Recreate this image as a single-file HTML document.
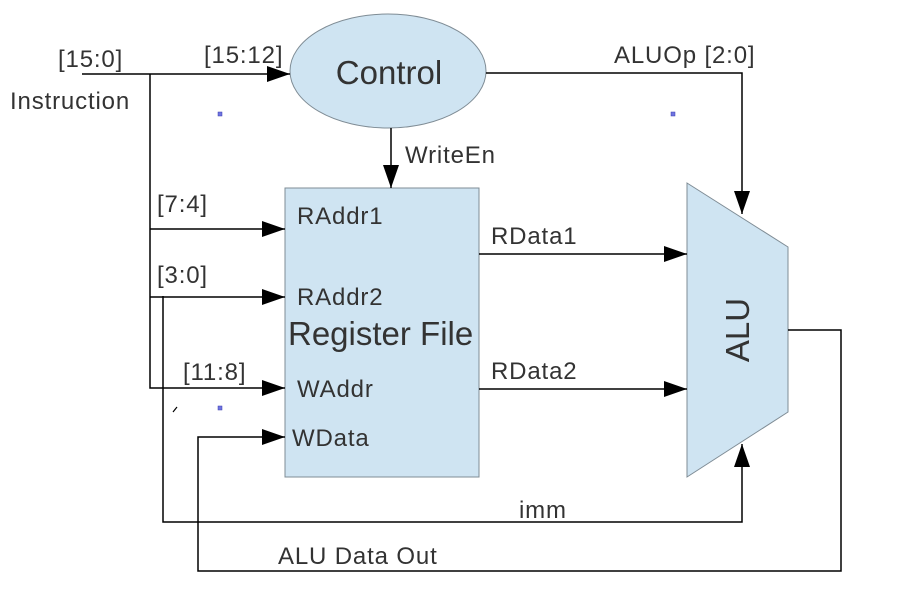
<!DOCTYPE html>
<html><head><style>
body{margin:0;background:#fff}
svg text{font-family:"Liberation Sans",sans-serif;fill:#333}
.s{font-size:24px;letter-spacing:0.85px}
.b{font-size:33px}
</style></head><body>
<svg width="907" height="590" viewBox="0 0 907 590" xmlns="http://www.w3.org/2000/svg">
<defs><marker id="a" markerWidth="24" markerHeight="16" refX="23" refY="8" orient="auto" markerUnits="userSpaceOnUse"><path d="M0,0 L23,8 L0,16 Z" fill="#000"/></marker></defs>
<ellipse cx="388" cy="71" rx="98" ry="57" fill="#cfe4f2" stroke="#7f8c95" stroke-width="1"/>
<rect x="285" y="188" width="194" height="289" fill="#cfe4f2" stroke="#7f8c95"/>
<polygon points="687,183 788,247 788,412 687,477" fill="#cfe4f2" stroke="#7f8c95"/>
<g stroke="#000" stroke-width="1.5" fill="none">
<line x1="82" y1="74" x2="290" y2="74" marker-end="url(#a)"/>
<polyline points="150,74 150,388 285,388" marker-end="url(#a)"/>
<line x1="150" y1="229" x2="285" y2="229" marker-end="url(#a)"/>
<line x1="150" y1="297" x2="285" y2="297" marker-end="url(#a)"/>
<polyline points="163,296 163,522 742,522 742,444" marker-end="url(#a)"/>
<polyline points="486,73 742,73 742,214" marker-end="url(#a)"/>
<line x1="391" y1="128" x2="391" y2="188" marker-end="url(#a)"/>
<line x1="479" y1="254" x2="687" y2="254" marker-end="url(#a)"/>
<line x1="479" y1="389" x2="687" y2="389" marker-end="url(#a)"/>
<polyline points="788,330 841,330 841,571 198,571 198,437 285,437" marker-end="url(#a)"/>
<line x1="173" y1="412" x2="177" y2="407" stroke-width="1.2"/>
</g>
<g fill="#6f74e0" stroke="#3a3fb0" stroke-width="0.5">
<rect x="218" y="112" width="4" height="4"/><rect x="671" y="112" width="4" height="4"/><rect x="218" y="406" width="4" height="4"/>
</g>
<text class="s" x="58" y="67">[15:0]</text>
<text class="s" x="10" y="109">Instruction</text>
<text class="s" x="204" y="63">[15:12]</text>
<text class="b" x="389" y="84" text-anchor="middle">Control</text>
<text class="s" x="614" y="63">ALUOp [2:0]</text>
<text class="s" x="405" y="163">WriteEn</text>
<text class="s" x="157" y="212">[7:4]</text>
<text class="s" x="157" y="283">[3:0]</text>
<text class="s" x="183" y="380">[11:8]</text>
<text class="s" x="297" y="224">RAddr1</text>
<text class="s" x="297" y="305">RAddr2</text>
<text class="b" x="288" y="345">Register File</text>
<text class="s" x="297" y="397">WAddr</text>
<text class="s" x="292" y="446">WData</text>
<text class="s" x="491" y="244">RData1</text>
<text class="s" x="491" y="379">RData2</text>
<text class="s" x="519" y="518">imm</text>
<text class="s" x="278" y="564">ALU Data Out</text>
<text class="b" transform="translate(749,330) rotate(-90)" text-anchor="middle">ALU</text>
</svg>
</body></html>
